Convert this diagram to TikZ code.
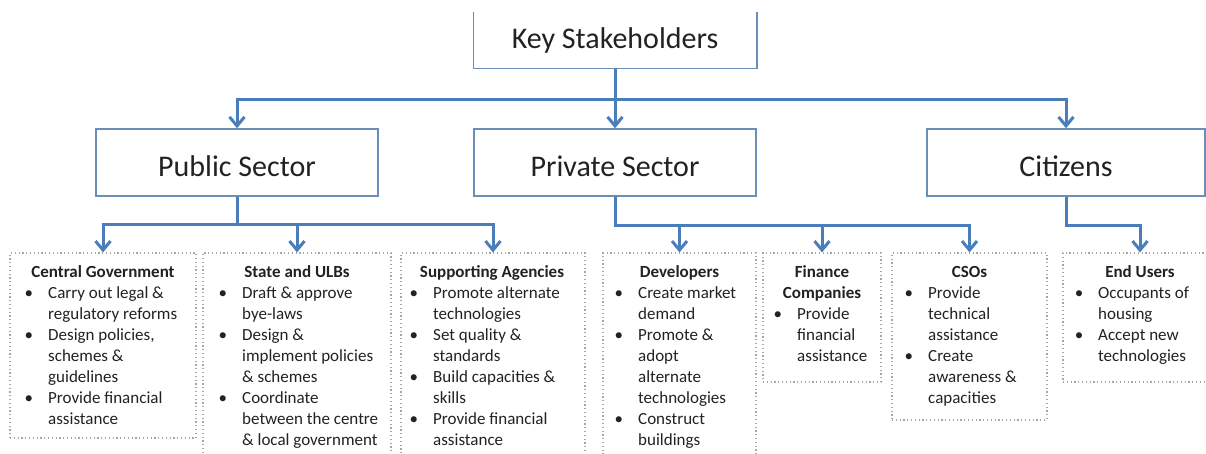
\documentclass[tikz,border=0pt]{standalone}
\usepackage{fontspec}
\setmainfont{Carlito}
\usetikzlibrary{arrows.meta}
\definecolor{connc}{HTML}{4A7EBB}
\definecolor{boxb}{HTML}{6A8DBA}
\definecolor{dotb}{HTML}{A6A6A6}
\definecolor{txt}{HTML}{222222}
\newcommand\bl{\llap{\textbullet\hspace{15pt}}}
\newcommand\fs{\rule{0pt}{14pt}}
\begin{document}
\begin{tikzpicture}[x=1pt,y=-1pt,
  mainbox/.style={line width=1.5pt, fill=white, minimum width=282pt, minimum height=67pt, inner sep=0pt, font=\fontsize{30}{36}\selectfont, text=txt},
  lowtext/.style={text height=28pt, text depth=0pt},
  dbox/.style={draw=dotb, line width=1.2pt, dash pattern=on 1.2pt off 2.6pt, inner sep=0pt},
  conn/.style={draw=connc, line width=3pt, -{Straight Barb[length=9pt,width=15pt]}},
  ttl/.style={font=\fontsize{17}{21}\selectfont\bfseries, text=txt, inner sep=0pt, anchor=base},
  body/.style={font=\fontsize{17}{21}\selectfont, text=txt, inner sep=0pt, align=left, anchor=north west},
]
\useasboundingbox[fill=white] (0,0) rectangle (1206,454);

% main boxes
\node[mainbox, minimum height=55pt] (ks) at (615,40.5) {Key Stakeholders};
\draw[boxb, line width=1.5pt] (ks.north west) -- (ks.south west) -- (ks.south east) -- (ks.north east);
\node[mainbox, lowtext, draw=boxb] (ps) at (237,162.5) {Public Sector};
\node[mainbox, lowtext, draw=boxb] (pv) at (615,162.5) {Private Sector};
\node[mainbox, lowtext, draw=boxb, minimum width=278pt] (cz) at (1066,162.5) {Citizens};

% dotted boxes
\node[dbox, minimum width=186pt, minimum height=185pt] (cg) at (103,345.5) {};
\node[dbox, minimum width=188pt, minimum height=227pt] (sl) at (297,366.5) {};
\node[dbox, minimum width=184pt, minimum height=227pt] (sa) at (493,366.5) {};
\node[dbox, minimum width=153pt, minimum height=227pt] (dv) at (679.5,366.5) {};
\node[dbox, minimum width=118pt, minimum height=129pt] (fc) at (822,317.5) {};
\node[dbox, minimum width=155pt, minimum height=167pt] (cs) at (969.5,336.5) {};
\node[dbox, minimum width=154pt, minimum height=129pt] (eu) at (1140,317.5) {};

% connectors
\draw[conn] (ks.south) -- ++(0,31) -| (ps.north);
\draw[conn] (ks.south) -- (pv.north);
\draw[conn] (ks.south) -- ++(0,31) -| (cz.north);
\draw[conn] (ps.south) -- ++(0,28) -| (cg.north);
\draw[conn] (ps.south) -- ++(0,28) -| (sl.north);
\draw[conn] (ps.south) -- ++(0,28) -| (sa.north);
\draw[conn] (pv.south) -- ++(0,29) -| (dv.north);
\draw[conn] (pv.south) -- ++(0,29) -| (fc.north);
\draw[conn] (pv.south) -- ++(0,29) -| (cs.north);
\draw[conn] (cz.south) -- ++(0,29) -| (eu.north);

% texts
\node[ttl] (cgt) at (103,277) {Central Government};
\node[body] (cgb) at (48,284) {\fs\bl Carry out legal \&\\regulatory reforms\\\bl Design policies,\\schemes \&\\guidelines\\\bl Provide financial\\assistance};

\node[ttl] (slt) at (297,277) {State and ULBs};
\node[body] (slb) at (242,284) {\fs\bl Draft \& approve\\bye-laws\\\bl Design \&\\implement policies\\\& schemes\\\bl Coordinate\\between the centre\\\& local government};

\node[ttl] (sat) at (492,277) {Supporting Agencies};
\node[body] (sab) at (433,284) {\fs\bl Promote alternate\\technologies\\\bl Set quality \&\\standards\\\bl Build capacities \&\\skills\\\bl Provide financial\\assistance};

\node[ttl] (dvt) at (679.5,277) {Developers};
\node[body] (dvb) at (638,284) {\fs\bl Create market\\demand\\\bl Promote \&\\adopt\\alternate\\technologies\\\bl Construct\\buildings};

\node[ttl, align=center, anchor=north] (fct) at (822,263) {\fs Finance\\Companies};
\node[body] (fcb) at (797,305) {\fs\bl Provide\\financial\\assistance};

\node[ttl] (cst) at (969.5,277) {CSOs};
\node[body] (csb) at (928,284) {\fs\bl Provide\\technical\\assistance\\\bl Create\\awareness \&\\capacities};

\node[ttl] (eut) at (1140,277) {End Users};
\node[body] (eub) at (1098,284) {\fs\bl Occupants of\\housing\\\bl Accept new\\technologies};
\end{tikzpicture}
\end{document}
